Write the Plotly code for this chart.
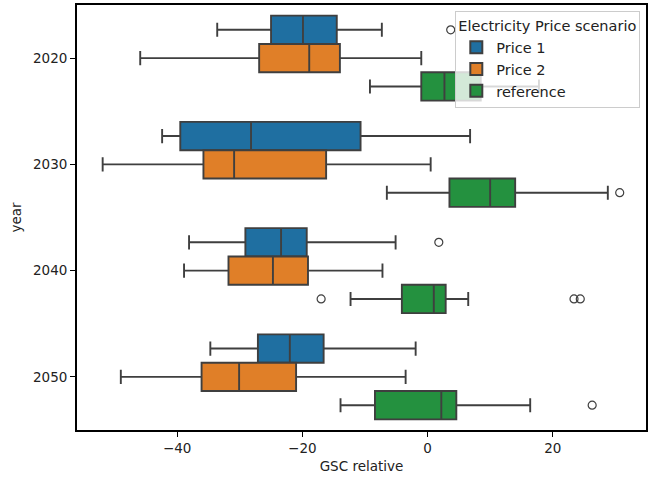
import plotly.graph_objects as go

years = ["2020", "2030", "2040", "2050"]
scenarios = ["Price 1", "Price 2", "reference"]
colors = ["#1f6fa1", "#e07f28", "#24913f"]

# box statistics per scenario, per year (2020, 2030, 2040, 2050)
lowerfence = {
    "Price 1": [-33.6, -42.4, -38.1, -34.7],
    "Price 2": [-45.9, -51.9, -38.9, -49.0],
    "reference": [-9.2, -6.5, -12.3, -13.9],
}
q1 = {
    "Price 1": [-25.0, -39.5, -29.1, -27.1],
    "Price 2": [-26.9, -35.8, -31.8, -36.1],
    "reference": [-1.0, 3.5, -4.1, -8.4],
}
median = {
    "Price 1": [-19.9, -28.2, -23.4, -22.0],
    "Price 2": [-18.9, -30.9, -24.7, -30.1],
    "reference": [2.7, 10.0, 1.0, 2.2],
}
q3 = {
    "Price 1": [-14.5, -10.7, -19.3, -16.6],
    "Price 2": [-14.0, -16.2, -19.1, -21.0],
    "reference": [8.5, 14.0, 2.9, 4.6],
}
upperfence = {
    "Price 1": [-7.3, 6.8, -5.1, -1.9],
    "Price 2": [-1.0, 0.5, -7.2, -3.5],
    "reference": [17.8, 28.8, 6.5, 16.4],
}
# outliers: (year index, value)
outliers = {
    "Price 1": [(0, 3.7), (2, 1.8)],
    "Price 2": [],
    "reference": [(1, 30.7), (2, -17.0), (2, 23.4), (2, 24.4), (3, 26.3)],
}

group_width = 0.8
n = len(scenarios)
bw = group_width / n

fig = go.Figure()
for k, s in enumerate(scenarios):
    off = -group_width / 2 + bw * (k + 0.5)
    pos = [i + off for i in range(len(years))]
    fig.add_trace(go.Box(
        name=s, orientation="h", y=pos,
        q1=q1[s], median=median[s], q3=q3[s],
        lowerfence=lowerfence[s], upperfence=upperfence[s],
        width=bw, whiskerwidth=0.5, boxpoints=False,
        fillcolor=colors[k], line=dict(color="#3f3f3f", width=1.9),
        hoverinfo="skip",
    ))
for k, s in enumerate(scenarios):
    off = -group_width / 2 + bw * (k + 0.5)
    if outliers[s]:
        fig.add_trace(go.Scatter(
            x=[v for _, v in outliers[s]],
            y=[i + off for i, _ in outliers[s]],
            mode="markers", showlegend=False,
            marker=dict(symbol="circle-open", size=8, color="#3f3f3f", line=dict(width=1.2)),
        ))

fig.update_layout(
    width=651, height=478,
    margin=dict(l=77, r=3, t=5, b=48),
    paper_bgcolor="white", plot_bgcolor="white",
    font=dict(family="DejaVu Sans", size=13, color="#222"),
    showlegend=True,
    legend=dict(
        title=dict(text="Electricity Price scenario", font=dict(size=14.5)),
        x=0.99, xanchor="right", y=0.985, yanchor="top",
        bgcolor="rgba(255,255,255,0.8)", bordercolor="#cccccc", borderwidth=1,
        font=dict(size=14.5), tracegroupgap=0, itemsizing="constant",
    ),
)
fig.update_xaxes(
    range=[-56, 34.9], tickvals=[-40, -20, 0, 20], ticktext=["\u221240", "\u221220", "0", "20"],
    tickfont=dict(size=13.5),
    showgrid=False, zeroline=False, showline=True, linecolor="black", linewidth=1.8,
    mirror=True, ticks="outside", ticklen=5, tickwidth=1.3, tickcolor="black",
    title=dict(text="GSC relative", standoff=6, font=dict(size=13.5)),
)
fig.update_yaxes(
    range=[3.5, -0.5], tickvals=list(range(len(years))), ticktext=years,
    tickfont=dict(size=13.5),
    showgrid=False, zeroline=False, showline=True, linecolor="black", linewidth=1.8,
    mirror=True, ticks="outside", ticklen=5, tickwidth=1.3, tickcolor="black",
    title=dict(text="year", standoff=8, font=dict(size=13.5)),
)

fig.write_html("out.html")
